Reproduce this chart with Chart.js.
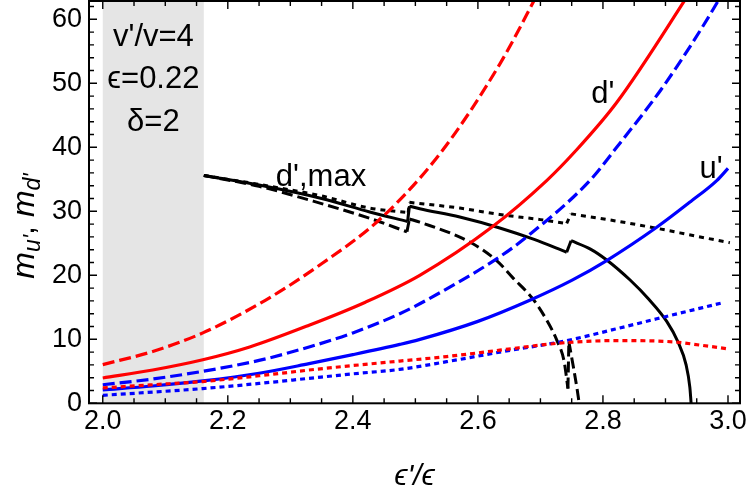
<!DOCTYPE html>
<html>
<head>
<meta charset="utf-8">
<script src="https://cdn.jsdelivr.net/npm/chart.js@4.4.1/dist/chart.umd.min.js"></script>
<style>
  body { margin: 0; background: #fff; }
  #wrap { width: 750px; height: 496px; }
</style>
</head>
<body>
<div id="wrap"><canvas id="chart" width="750" height="496"></canvas></div>
<script>
// tick values
const xTicks = [2.0, 2.2, 2.4, 2.6, 2.8, 3.0];
const yTicks = [0, 10, 20, 30, 40, 50, 60];

// shaded region (eps'/eps)
const bandStart = 2.0;
const bandEnd = 2.1616;

// red curves (d')
const redSolidX = [2.0, 2.08, 2.16, 2.235, 2.33, 2.42, 2.507, 2.622, 2.71, 2.755, 2.822, 2.931, 2.96];
const redSolidY = [3.95, 5.2, 6.8, 8.8, 12.2, 15.8, 20.0, 27.5, 34.8, 39.3, 47.0, 63.0, 67.5];
const redDashedX = [2.0, 2.08, 2.16, 2.26, 2.35, 2.446, 2.54, 2.635, 2.70];
const redDashedY = [6.05, 8.1, 11.0, 16.1, 21.8, 29.0, 39.1, 53.0, 64.8];
const redDottedX = [2.0, 2.08, 2.16, 2.25, 2.33, 2.40, 2.475, 2.55, 2.635, 2.731, 2.822, 2.912, 2.955, 3.0];
const redDottedY = [2.4, 2.9, 3.4, 4.3, 5.2, 5.9, 6.6, 7.3, 8.3, 9.4, 9.8, 9.6, 9.1, 8.5];

// blue curves (u')
const blueSolidX = [2.0, 2.08, 2.16, 2.25, 2.33, 2.40, 2.475, 2.506, 2.60, 2.683, 2.75, 2.806, 2.886, 2.94, 2.982, 3.0];
const blueSolidY = [2.1, 2.7, 3.5, 4.7, 6.2, 7.6, 9.2, 9.95, 12.8, 16.1, 19.2, 22.3, 27.5, 31.5, 34.8, 36.7];
const blueDashedX = [2.0, 2.08, 2.16, 2.25, 2.33, 2.40, 2.475, 2.523, 2.635, 2.678, 2.779, 2.822, 2.90, 2.982, 3.0];
const blueDashedY = [2.9, 3.8, 5.0, 6.7, 8.8, 11.0, 14.0, 16.4, 22.9, 26.0, 34.8, 40.0, 50.0, 62.5, 65.7];
const blueDottedX = [2.0, 2.08, 2.16, 2.25, 2.33, 2.40, 2.475, 2.55, 2.635, 2.742, 2.82, 2.886, 2.991];
const blueDottedY = [1.25, 1.75, 2.3, 3.1, 3.9, 4.6, 5.3, 6.5, 8.0, 9.8, 11.6, 13.2, 15.7];

// black curves (d', max), each in pieces between the jumps
const blackSolidX1 = [2.1616, 2.25, 2.35, 2.427, 2.4875];
const blackSolidY1 = [35.6, 34.1, 32.0, 29.9, 28.4];
const blackSolidX2 = [2.4905, 2.507, 2.571, 2.635, 2.69, 2.742];
const blackSolidY2 = [30.8, 30.4, 29.1, 27.4, 25.6, 23.6];
const blackSolidX3 = [2.749, 2.78, 2.806, 2.843, 2.873, 2.902, 2.92, 2.933, 2.939, 2.941];
const blackSolidY3 = [25.4, 24.1, 22.4, 19.3, 16.3, 12.8, 9.6, 6.0, 2.5, 0];

const blackDashedX1 = [2.1616, 2.25, 2.35, 2.427, 2.4865];
const blackDashedY1 = [35.6, 33.9, 31.2, 28.9, 26.8];
const blackDashedX2 = [2.4905, 2.507, 2.587, 2.63, 2.656, 2.688, 2.71, 2.726, 2.738, 2.744];
const blackDashedY2 = [28.8, 28.3, 25.2, 22.3, 19.6, 16.3, 13.0, 9.9, 6.5, 2.3];
const blackDashedX3 = [2.7455, 2.753, 2.759, 2.762];
const blackDashedY3 = [9.6, 5.5, 2.0, 0];

const blackDottedX1 = [2.1616, 2.25, 2.35, 2.427, 2.4885];
const blackDottedY1 = [35.6, 34.2, 32.4, 30.5, 29.8];
const blackDottedX2 = [2.4905, 2.571, 2.635, 2.70, 2.742];
const blackDottedY2 = [31.4, 30.5, 29.5, 28.7, 28.1];
const blackDottedX3 = [2.749, 2.82, 2.883, 2.95, 3.003];
const blackDottedY3 = [29.6, 28.5, 27.4, 26.1, 25.1];

// text labels placed in data coordinates
const notes = [
  { text: "v'/v=4", x: 2.081, y: 55.9 },
  { text: "\u03F5=0.22", x: 2.081, y: 49.2 },
  { text: "\u03B4=2", x: 2.081, y: 42.5 },
  { text: "d'", x: 2.80, y: 46.9 },
  { text: "u'", x: 2.973, y: 35.2 },
  { text: "d',max", x: 2.349, y: 33.9 },
];

const FONT = "'Liberation Sans', Arial, 'DejaVu Sans', sans-serif";

function pts(xs, ys) {
  return xs.map((x, i) => ({ x: x, y: ys[i] }));
}

function line(data, color, dash, width) {
  return {
    data: data,
    borderColor: color,
    borderWidth: width || 3.2,
    borderDash: dash,
    borderCapStyle: "butt",
    pointRadius: 0,
    fill: false,
    cubicInterpolationMode: "monotone",
  };
}

// a black curve = its smooth pieces plus the straight jumps joining them
function brokenCurve(pieces, dash) {
  const sets = [];
  pieces.forEach(([xs, ys], i) => {
    sets.push(line(pts(xs, ys), "#000000", dash, 3));
    if (i + 1 < pieces.length) {
      const [nx, ny] = pieces[i + 1];
      const jump = line([
        { x: xs[xs.length - 1], y: ys[ys.length - 1] },
        { x: nx[0], y: ny[0] },
      ], "#000000", dash, 3);
      jump.cubicInterpolationMode = "default";
      jump.tension = 0;
      sets.push(jump);
    }
  });
  return sets;
}

// grey band, frame, inward ticks and texts
const decor = {
  id: "decor",
  beforeDatasetsDraw(chart) {
    const { ctx, chartArea: a, scales } = chart;
    const x0 = scales.x.getPixelForValue(bandStart);
    const x1 = scales.x.getPixelForValue(bandEnd);
    ctx.save();
    ctx.fillStyle = "#e5e5e5";
    ctx.fillRect(x0, a.top, x1 - x0, a.bottom - a.top);
    ctx.restore();
  },
  afterDraw(chart) {
    const { ctx, chartArea: a, scales } = chart;
    const xs = scales.x, ys = scales.y;
    ctx.save();
    ctx.strokeStyle = "#000";
    ctx.lineWidth = 1.4;
    ctx.beginPath();
    // x ticks every 0.05, major every 0.2
    for (let i = 0; i <= 20; i++) {
      const v = 2 + i * 0.05;
      const px = xs.getPixelForValue(v);
      const len = i % 4 === 0 ? 8 : 5;
      ctx.moveTo(px, a.bottom); ctx.lineTo(px, a.bottom - len);
      ctx.moveTo(px, a.top); ctx.lineTo(px, a.top + len);
    }
    // y ticks every 2, major every 10
    for (let v = 0; v <= ys.max; v += 2) {
      const py = ys.getPixelForValue(v);
      const len = v % 10 === 0 ? 8 : 5;
      ctx.moveTo(a.left, py); ctx.lineTo(a.left + len, py);
      ctx.moveTo(a.right, py); ctx.lineTo(a.right - len, py);
    }
    ctx.stroke();
    ctx.lineWidth = 2;
    ctx.strokeRect(a.left, a.top, a.right - a.left, a.bottom - a.top);

    // annotations
    ctx.fillStyle = "#000";
    ctx.textAlign = "center";
    ctx.textBaseline = "alphabetic";
    ctx.font = "31px " + FONT;
    notes.forEach((n) => {
      ctx.fillText(n.text, xs.getPixelForValue(n.x), ys.getPixelForValue(n.y));
    });

    // x title
    ctx.font = "italic 30px " + FONT;
    ctx.fillText("\u03F5'/\u03F5", (a.left + a.right) / 2, 485);

    // y title: m_{u'}, m_{d'}
    const parts = [
      { t: "m", f: "italic 32px " + FONT, dy: 0 },
      { t: "u'", f: "italic 23px " + FONT, dy: 6 },
      { t: ", ", f: "32px " + FONT, dy: 0 },
      { t: "m", f: "italic 32px " + FONT, dy: 0 },
      { t: "d'", f: "italic 23px " + FONT, dy: 6 },
    ];
    let total = 0;
    parts.forEach((p) => { ctx.font = p.f; p.w = ctx.measureText(p.t).width; total += p.w; });
    ctx.translate(34, 226);
    ctx.rotate(-Math.PI / 2);
    ctx.textAlign = "left";
    let cx = -total / 2;
    parts.forEach((p) => {
      ctx.font = p.f;
      ctx.fillText(p.t, cx, p.dy);
      cx += p.w;
    });
    ctx.restore();
  },
};

new Chart(document.getElementById("chart"), {
  type: "line",
  data: {
    datasets: [
      line(pts(redDashedX, redDashedY), "#ff0000", [12, 5]),
      line(pts(redSolidX, redSolidY), "#ff0000", []),
      line(pts(redDottedX, redDottedY), "#ff0000", [5, 4]),
      line(pts(blueDashedX, blueDashedY), "#0000ff", [12, 5]),
      line(pts(blueSolidX, blueSolidY), "#0000ff", []),
      line(pts(blueDottedX, blueDottedY), "#0000ff", [5, 4]),
      ...brokenCurve([[blackDashedX1, blackDashedY1], [blackDashedX2, blackDashedY2], [blackDashedX3, blackDashedY3]], [11, 5]),
      ...brokenCurve([[blackSolidX1, blackSolidY1], [blackSolidX2, blackSolidY2], [blackSolidX3, blackSolidY3]], []),
      ...brokenCurve([[blackDottedX1, blackDottedY1], [blackDottedX2, blackDottedY2], [blackDottedX3, blackDottedY3]], [5, 5]),
    ],
  },
  options: {
    responsive: false,
    animation: false,
    layout: { padding: { top: 1, right: 10, left: 0, bottom: 0 } },
    plugins: { legend: { display: false }, tooltip: { enabled: false } },
    scales: {
      x: {
        type: "linear",
        min: 1.978,
        max: 3.0192,
        grid: { display: false, drawTicks: false },
        border: { display: false },
        ticks: {
          color: "#000",
          font: { family: FONT, size: 27 },
          padding: 2,
          autoSkip: false,
          maxRotation: 0,
          callback: (v) => v.toFixed(1),
        },
        afterBuildTicks: (s) => { s.ticks = xTicks.map((v) => ({ value: v })); },
        afterFit: (s) => { s.height = 92.7; s.paddingLeft = 0; s.paddingRight = 0; },
      },
      y: {
        min: 0,
        max: 62.86,
        grid: { display: false, drawTicks: false },
        border: { display: false },
        ticks: {
          color: "#000",
          font: { family: FONT, size: 27 },
          padding: 7,
          autoSkip: false,
        },
        afterBuildTicks: (s) => { s.ticks = yTicks.map((v) => ({ value: v })); },
        afterFit: (s) => { s.width = 89; s.paddingTop = 0; s.paddingBottom = 0; },
      },
    },
  },
  plugins: [decor],
});
</script>
</body>
</html>
